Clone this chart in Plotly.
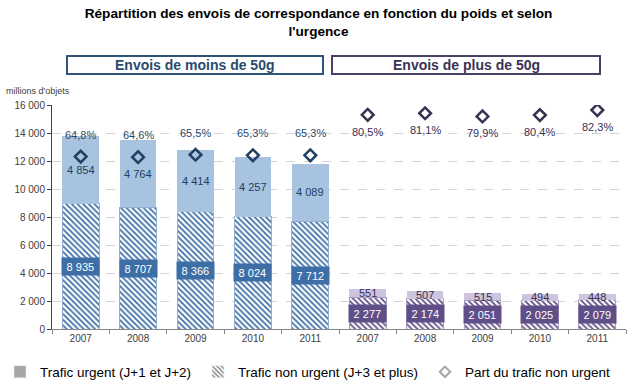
import plotly.graph_objects as go

# ---------------- data ----------------
years = ["2007", "2008", "2009", "2010", "2011"]
urgent_small = [4854, 4764, 4414, 4257, 4089]
nonurgent_small = [8935, 8707, 8366, 8024, 7712]
urgent_large = [551, 507, 515, 494, 448]
nonurgent_large = [2277, 2174, 2051, 2025, 2079]
share_small = [64.8, 64.6, 65.5, 65.3, 65.3]
share_large = [80.5, 81.1, 79.9, 80.4, 82.3]
y_ticks = [0, 2000, 4000, 6000, 8000, 10000, 12000, 14000, 16000]
title_text = "Répartition des envois de correspondance en fonction du poids et selon<br>l'urgence"
group_titles = ["Envois de moins de 50g", "Envois de plus de 50g"]
legend_names = ["Trafic urgent (J+1 et J+2)", "Trafic non urgent (J+3 et plus)", "Part du trafic non urgent"]

# ---------------- style ----------------
FONT = "Liberation Sans, Arial, sans-serif"
W, H = 637, 392
ML, MR, MT, MB = 52, 11, 105, 63
PW, PH = W - ML - MR, H - MT - MB
BARGAP = 0.36

BLUE_LIGHT = "#A7C3DF"
BLUE_DARK = "#3D6FA6"
BLUE_TEXT = "#213F62"
PURP_LIGHT = "#CDC4DE"
PURP_DARK = "#5F4E88"
PURP_TEXT = "#3A3052"


def fmt(v):
    return f"{v:,}".replace(",", "\u00a0")


def pct(v):
    return f"{v:.1f}%".replace(".", ",")


def px_x(a):
    return (a - ML) / PW


def px_y(a):
    return (H - MB - a) / PH


x_small = list(range(len(years)))
x_large = [i + len(years) for i in range(len(years))]
x_all = x_small + x_large

fig = go.Figure()


def hatched(color):
    return dict(shape="\\", fgcolor=color, bgcolor="white", size=4, solidity=0.45, fillmode="replace")


fig.add_bar(x=x_small, y=nonurgent_small, marker=dict(color=BLUE_DARK, pattern=hatched(BLUE_DARK),
            line=dict(color="#8FB0D4", width=1)), showlegend=False, hoverinfo="skip")
fig.add_bar(x=x_small, y=urgent_small, marker=dict(color=BLUE_LIGHT, line=dict(width=0)),
            showlegend=False, hoverinfo="skip")
fig.add_bar(x=x_large, y=nonurgent_large, marker=dict(color=PURP_DARK, pattern=hatched(PURP_DARK),
            line=dict(color="#A89CC4", width=1)), showlegend=False, hoverinfo="skip")
fig.add_bar(x=x_large, y=urgent_large, marker=dict(color=PURP_LIGHT, line=dict(width=0)),
            showlegend=False, hoverinfo="skip")

fig.add_scatter(x=x_small, y=share_small, yaxis="y2", mode="markers",
                marker=dict(symbol="diamond-open", size=9, color=BLUE_TEXT, line=dict(width=2.5, color=BLUE_TEXT)),
                showlegend=False, hoverinfo="skip")
fig.add_scatter(x=x_large, y=share_large, yaxis="y2", mode="markers",
                marker=dict(symbol="diamond-open", size=9, color=PURP_TEXT, line=dict(width=2.5, color=PURP_TEXT)),
                showlegend=False, hoverinfo="skip")

# legend-only entries (grey, as in the reference)
fig.add_bar(x=[None], y=[None], name=legend_names[0], marker=dict(color="#A6A6A6"), legend="legend")
fig.add_bar(x=[None], y=[None], name=legend_names[1],
            marker=dict(color="#7F7F7F", pattern=hatched("#7F7F7F")), legend="legend2")
fig.add_scatter(x=[None], y=[None], name=legend_names[2], mode="markers", legend="legend3",
                marker=dict(symbol="diamond-open", size=8, color="#A6A6A6", line=dict(width=2, color="#A6A6A6")))

annotations = []
bar_px = PW / len(x_all) * (1 - BARGAP)

for xs, non, urg, dark, txt in [(x_small, nonurgent_small, urgent_small, BLUE_DARK, BLUE_TEXT),
                                 (x_large, nonurgent_large, urgent_large, PURP_DARK, PURP_TEXT)]:
    for x, n, u in zip(xs, non, urg):
        annotations.append(dict(x=x, y=n / 2, xref="x", yref="y", text=fmt(n), showarrow=False,
                                font=dict(family=FONT, size=11, color="white"), bgcolor=dark,
                                width=bar_px - 4, height=13, borderpad=2))
        annotations.append(dict(x=x, y=n + u / 2, xref="x", yref="y", text=fmt(u), showarrow=False,
                                font=dict(family=FONT, size=11, color=txt)))

for x, p in zip(x_small, share_small):
    annotations.append(dict(x=x, y=p, xref="x", yref="y2", text=pct(p), showarrow=False, yshift=22,
                            font=dict(family=FONT, size=11, color="#2E4B6C")))
for x, p in zip(x_large, share_large):
    annotations.append(dict(x=x, y=p, xref="x", yref="y2", text=pct(p), showarrow=False, yshift=-17,
                            font=dict(family=FONT, size=11, color=PURP_TEXT)))

# group header boxes
shapes = []
boxes = [(67, 323, "#2E5579", "#2A4A6E"), (332, 600, "#4A4065", "#3B3256")]
for (x0, x1, lc, tc), label in zip(boxes, group_titles):
    shapes.append(dict(type="rect", xref="paper", yref="paper", x0=px_x(x0), x1=px_x(x1),
                       y0=px_y(74), y1=px_y(56), line=dict(color=lc, width=2), fillcolor="white"))
    annotations.append(dict(x=px_x((x0 + x1) / 2), y=px_y(65.5), xref="paper", yref="paper",
                            xanchor="center", yanchor="middle",
                            text=f"<b>{label}</b>", showarrow=False,
                            font=dict(family=FONT, size=14, color=tc)))

annotations.append(dict(x=px_x(4), y=px_y(91), xref="paper", yref="paper", xanchor="left", yanchor="middle",
                        text="millions d'objets", showarrow=False,
                        font=dict(family=FONT, size=9, color="#404040")))

leg_common = dict(orientation="h", yanchor="middle", y=px_y(372), xanchor="left",
                  font=dict(family=FONT, size=13.5, color="#000000"), bgcolor="rgba(0,0,0,0)",
                  itemwidth=30)

fig.update_layout(
    width=W, height=H,
    margin=dict(l=ML, r=MR, t=MT, b=MB, autoexpand=False),
    paper_bgcolor="white", plot_bgcolor="white",
    barmode="stack", bargap=BARGAP,
    separators=", ",
    font=dict(family=FONT, size=10, color="#404040"),
    title=dict(text=f"<b>{title_text}</b>", x=0.5, xref="container", xanchor="center",
               y=1 - 18 / H, yref="container", yanchor="top",
               font=dict(family=FONT, size=13.6, color="#000000")),
    xaxis=dict(range=[-0.5, len(x_all) - 0.5], tickmode="array", tickvals=x_all,
               ticktext=years + years, ticks="", showgrid=False, zeroline=False,
               showline=True, linecolor="#868686", linewidth=1,
               tickfont=dict(family=FONT, size=10, color="#404040"),
               minor=dict(tickmode="array", tickvals=[i - 0.5 for i in range(len(x_all) + 1)],
                          ticks="outside", ticklen=4, tickcolor="#868686", showgrid=False)),
    yaxis=dict(range=[0, 16000], tickmode="array", tickvals=y_ticks, tickformat=",d",
               ticks="outside", ticklen=4, tickcolor="#404040",
               showline=True, linecolor="#404040", linewidth=1,
               showgrid=True, gridcolor="#D4D4D4", griddash="dash", gridwidth=1, zeroline=False,
               tickfont=dict(family=FONT, size=10, color="#404040")),
    yaxis2=dict(overlaying="y", side="right", range=[0, 84.2], visible=False, showgrid=False),
    legend=dict(x=px_x(0), **leg_common),
    legend2=dict(x=px_x(198), **leg_common),
    legend3=dict(x=px_x(425), **leg_common),
    annotations=annotations,
    shapes=shapes,
)

fig.write_html("out.html", config={"displayModeBar": False},
               post_script="document.body.style.margin='0';document.body.style.overflow='hidden';")
